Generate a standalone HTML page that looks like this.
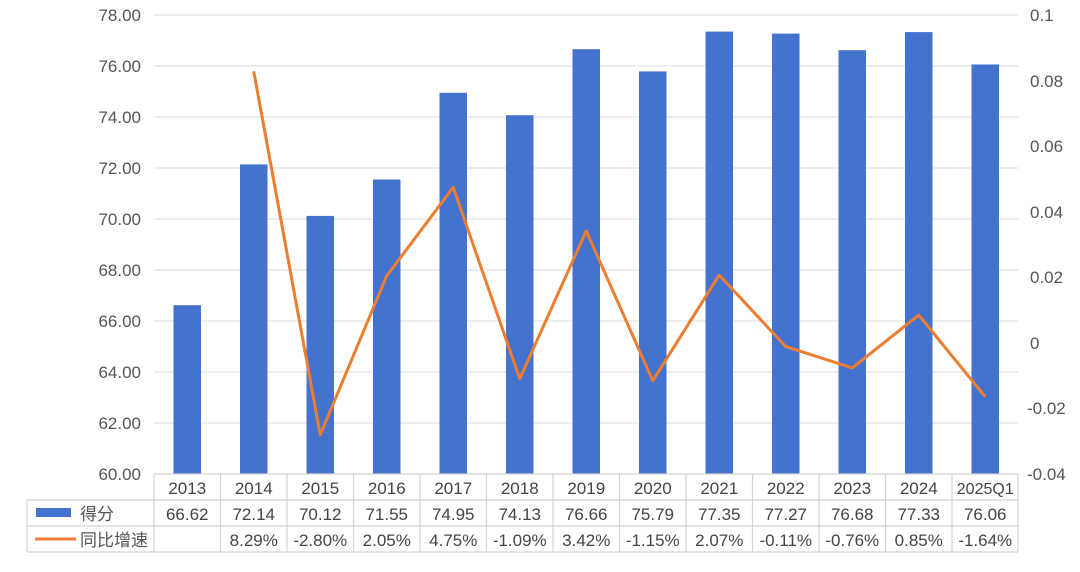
<!DOCTYPE html>
<html><head><meta charset="utf-8"><style>
html,body{margin:0;padding:0;background:#fff;}
svg{display:block;font-family:"Liberation Sans","Noto Sans CJK SC",sans-serif;}
</style></head><body>
<svg width="1080" height="572" viewBox="0 0 1080 572" xmlns="http://www.w3.org/2000/svg">
<g stroke="#e2e2e2" stroke-width="1.2">
<line x1="154" x2="1018" y1="15" y2="15"/><line x1="154" x2="1018" y1="66" y2="66"/>
<line x1="154" x2="1018" y1="117" y2="117"/><line x1="154" x2="1018" y1="168" y2="168"/>
<line x1="154" x2="1018" y1="219" y2="219"/><line x1="154" x2="1018" y1="270" y2="270"/>
<line x1="154" x2="1018" y1="321" y2="321"/><line x1="154" x2="1018" y1="372" y2="372"/>
<line x1="154" x2="1018" y1="423" y2="423"/>
</g>
<g font-size="17" fill="#555" text-anchor="end">
<text x="141" y="21">78.00</text><text x="141" y="72">76.00</text><text x="141" y="123">74.00</text>
<text x="141" y="174">72.00</text><text x="141" y="225">70.00</text><text x="141" y="276">68.00</text>
<text x="141" y="327">66.00</text><text x="141" y="378">64.00</text><text x="141" y="429">62.00</text>
<text x="141" y="480">60.00</text>
</g>
<g font-size="17" fill="#555">
<text x="1030" y="21">0.1</text><text x="1030" y="87">0.08</text><text x="1030" y="152">0.06</text>
<text x="1030" y="218">0.04</text><text x="1030" y="283">0.02</text><text x="1030" y="349">0</text>
<text x="1027" y="414">-0.02</text><text x="1027" y="480">-0.04</text>
</g>
<g fill="#4472cf">
<rect x="173.5" y="305.2" width="27.5" height="168.8"/>
<rect x="240" y="164.4" width="27.5" height="309.6"/>
<rect x="306.5" y="215.9" width="27.5" height="258.1"/>
<rect x="373" y="179.5" width="27.5" height="294.5"/>
<rect x="439.5" y="92.8" width="27.5" height="381.2"/>
<rect x="506" y="115.2" width="27.5" height="358.8"/>
<rect x="572.5" y="49.2" width="27.5" height="424.8"/>
<rect x="639" y="71.4" width="27.5" height="402.6"/>
<rect x="705.5" y="31.6" width="27.5" height="442.4"/>
<rect x="772" y="33.6" width="27.5" height="440.4"/>
<rect x="838.5" y="50.2" width="27.5" height="423.8"/>
<rect x="905" y="32.1" width="27.5" height="441.9"/>
<rect x="971.5" y="64.5" width="27.5" height="409.5"/>
</g>
<polyline fill="none" stroke="#ed7d31" stroke-width="3" stroke-linejoin="round"
points="253.75,71.3 320.25,434.8 386.75,275.8 453.25,187.3 519.75,378.7 586.25,230.9 652.75,380.7 719.25,275.1 785.75,346.6 852.25,367.9 918.75,315.1 985.25,396.8"/>
<g stroke="#d4d4d4" stroke-width="1.2">
<line x1="154" x2="1018" y1="474" y2="474"/>
<line x1="27" x2="1018" y1="500" y2="500"/>
<line x1="27" x2="1018" y1="526" y2="526"/>
<line x1="27" x2="1018" y1="552" y2="552"/>
<line x1="27" x2="27" y1="500" y2="552"/>
<line x1="154" x2="154" y1="474" y2="552"/><line x1="220.5" x2="220.5" y1="474" y2="552"/>
<line x1="287" x2="287" y1="474" y2="552"/><line x1="353.5" x2="353.5" y1="474" y2="552"/>
<line x1="420" x2="420" y1="474" y2="552"/><line x1="486.5" x2="486.5" y1="474" y2="552"/>
<line x1="553" x2="553" y1="474" y2="552"/><line x1="619.5" x2="619.5" y1="474" y2="552"/>
<line x1="686" x2="686" y1="474" y2="552"/><line x1="752.5" x2="752.5" y1="474" y2="552"/>
<line x1="819" x2="819" y1="474" y2="552"/><line x1="885.5" x2="885.5" y1="474" y2="552"/>
<line x1="952" x2="952" y1="474" y2="552"/><line x1="1018" x2="1018" y1="474" y2="552"/>
</g>
<g font-size="17" fill="#444" text-anchor="middle">
<text x="187.25" y="494">2013</text><text x="253.75" y="494">2014</text><text x="320.25" y="494">2015</text>
<text x="386.75" y="494">2016</text><text x="453.25" y="494">2017</text><text x="519.75" y="494">2018</text>
<text x="586.25" y="494">2019</text><text x="652.75" y="494">2020</text><text x="719.25" y="494">2021</text>
<text x="785.75" y="494">2022</text><text x="852.25" y="494">2023</text><text x="918.75" y="494">2024</text>
<text x="985.25" y="494" font-size="16">2025Q1</text>
<text x="187.25" y="520">66.62</text><text x="253.75" y="520">72.14</text><text x="320.25" y="520">70.12</text>
<text x="386.75" y="520">71.55</text><text x="453.25" y="520">74.95</text><text x="519.75" y="520">74.13</text>
<text x="586.25" y="520">76.66</text><text x="652.75" y="520">75.79</text><text x="719.25" y="520">77.35</text>
<text x="785.75" y="520">77.27</text><text x="852.25" y="520">76.68</text><text x="918.75" y="520">77.33</text>
<text x="985.25" y="520">76.06</text>
<text x="253.75" y="546">8.29%</text><text x="320.25" y="546">-2.80%</text>
<text x="386.75" y="546">2.05%</text><text x="453.25" y="546">4.75%</text><text x="519.75" y="546">-1.09%</text>
<text x="586.25" y="546">3.42%</text><text x="652.75" y="546">-1.15%</text><text x="719.25" y="546">2.07%</text>
<text x="785.75" y="546">-0.11%</text><text x="852.25" y="546">-0.76%</text><text x="918.75" y="546">0.85%</text>
<text x="985.25" y="546">-1.64%</text>
</g>
<rect x="36" y="508" width="35" height="9" fill="#4472cf"/>
<line x1="35" x2="76" y1="539" y2="539" stroke="#ed7d31" stroke-width="3"/>
<g font-size="17" fill="#555">
<text x="80" y="520">得分</text>
<text x="80" y="546">同比增速</text>
</g>
</svg>
</body></html>
